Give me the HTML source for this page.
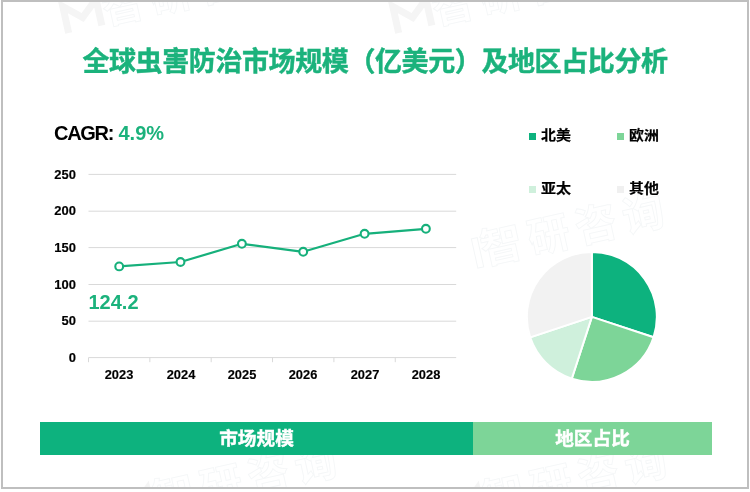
<!DOCTYPE html>
<html lang="zh-CN">
<head>
<meta charset="utf-8">
<title>全球虫害防治市场规模（亿美元）及地区占比分析</title>
<style>
html,body{margin:0;padding:0;background:#fff;}
body{width:750px;height:492px;position:relative;overflow:hidden;font-family:"Liberation Sans","Noto Sans CJK SC",sans-serif;}
#frame{position:absolute;left:1px;top:0;width:744px;height:485px;border:2px solid #bfbfbf;background:#fff;}
.abs{position:absolute;white-space:nowrap;line-height:1;}
#title{left:0;width:750px;top:48.5px;text-align:center;font-size:27px;font-weight:700;color:#1bb27c;letter-spacing:-0.4px;-webkit-text-stroke:0.45px #1bb27c;}
#cagr{left:54px;top:122.5px;font-size:20px;font-weight:700;color:#000;letter-spacing:-1.3px;}
#cagr span{color:#1bb27c;letter-spacing:0;position:absolute;left:64.5px;top:0;}
.yl{width:30px;left:46.2px;text-align:right;font-size:12px;font-weight:700;color:#000;transform:scaleX(1.08);transform-origin:100% 50%;-webkit-text-stroke:0.15px #000;}
.xl{width:60px;text-align:center;font-size:12px;font-weight:700;color:#000;transform:scaleX(1.07);transform-origin:50% 50%;-webkit-text-stroke:0.15px #000;}
#val{left:88.5px;top:291.5px;font-size:20px;font-weight:700;color:#1bb27c;}
.lg{font-size:13.6px;font-weight:700;color:#000;-webkit-text-stroke:0.2px #000;transform:scaleX(1.1);transform-origin:0 50%;}
.sq{position:absolute;width:6.5px;height:6.5px;}
#band1{position:absolute;left:40px;top:422px;width:433px;height:32.5px;background:#0db27e;}
#band2{position:absolute;left:473px;top:422px;width:239px;height:32.5px;background:#7dd598;}
.bt{color:#fff;font-size:18.67px;font-weight:700;text-align:center;width:100%;top:8px;-webkit-text-stroke:0.4px #fff;}
</style>
</head>
<body>
<div id="frame"></div>
<svg class="abs" style="left:0;top:0" width="750" height="492" viewBox="0 0 750 492">
  <defs><clipPath id="fc"><rect x="3" y="2" width="744" height="485"/></clipPath></defs>
  <g clip-path="url(#fc)" font-family="'Liberation Sans','Noto Sans CJK SC',sans-serif" font-size="42" font-weight="700" fill="none" stroke="#f5f7f8" stroke-width="0.9" letter-spacing="6.4">
    <text transform="translate(501.5,245.5) rotate(-12.5)" x="-21" y="15">智研咨询</text>
    <path transform="translate(501.5,245.5) rotate(-12.5)" d="M-28,-13 L-22,-13 L-22,17 L-28,17 Z" stroke="#f4f6f7" stroke-width="1" fill="none"/>
    <text transform="translate(123,5.5) rotate(-12.5)" x="-21" y="15">智研咨询</text>
    <path transform="translate(123,5.5) rotate(-12.5)" d="M-59,15 L-59,-12 L-42,3 L-25,-12 L-25,15" stroke="#f5f5f5" stroke-width="7" fill="none"/>
    <text transform="translate(453,5.5) rotate(-12.5)" x="-21" y="15">智研咨询</text>
    <path transform="translate(453,5.5) rotate(-12.5)" d="M-59,15 L-59,-12 L-42,3 L-25,-12 L-25,15" stroke="#f5f5f5" stroke-width="7" fill="none"/>
    <text transform="translate(174,495.5) rotate(-12.5)" x="-21" y="15">智研咨询</text>
    <path transform="translate(174,495.5) rotate(-12.5)" d="M-59,15 L-59,-12 L-42,3 L-25,-12 L-25,15" stroke="#f5f5f5" stroke-width="7" fill="none"/>
    <text transform="translate(504,495.5) rotate(-12.5)" x="-21" y="15">智研咨询</text>
    <path transform="translate(504,495.5) rotate(-12.5)" d="M-59,15 L-59,-12 L-42,3 L-25,-12 L-25,15" stroke="#f5f5f5" stroke-width="7" fill="none"/>
  </g>
  <rect x="40" y="100" width="416.5" height="300" fill="#fff"/>
</svg>
<div id="title" class="abs">全球虫害防治市场规模（亿美元）及地区占比分析</div>
<div id="cagr" class="abs">CAGR: <span>4.9%</span></div>

<svg class="abs" style="left:0;top:0" width="750" height="492" viewBox="0 0 750 492">
  <g stroke="#d9d9d9" stroke-width="1" fill="none">
    <line x1="88.5" y1="174.4" x2="456.2" y2="174.4"/>
    <line x1="88.5" y1="211.2" x2="456.2" y2="211.2"/>
    <line x1="88.5" y1="247.6" x2="456.2" y2="247.6"/>
    <line x1="88.5" y1="284.5" x2="456.2" y2="284.5"/>
    <line x1="88.5" y1="321.2" x2="456.2" y2="321.2"/>
    <line x1="88.5" y1="357.6" x2="456.2" y2="357.6"/>
    <line x1="88.50" y1="357.6" x2="88.50" y2="362.2"/>
    <line x1="149.85" y1="357.6" x2="149.85" y2="362.2"/>
    <line x1="211.20" y1="357.6" x2="211.20" y2="362.2"/>
    <line x1="272.55" y1="357.6" x2="272.55" y2="362.2"/>
    <line x1="333.90" y1="357.6" x2="333.90" y2="362.2"/>
    <line x1="395.25" y1="357.6" x2="395.25" y2="362.2"/>
  </g>
  <polyline points="119.2,266.4 180.5,262.0 241.9,243.8 303.2,251.8 364.6,233.8 425.9,228.8" fill="none" stroke="#16b07b" stroke-width="2.2" stroke-linejoin="round"/>
  <g fill="#fff" stroke="#16b07b" stroke-width="2.1">
    <circle cx="119.2" cy="266.4" r="3.9"/>
    <circle cx="180.5" cy="262.0" r="3.9"/>
    <circle cx="241.9" cy="243.8" r="3.9"/>
    <circle cx="303.2" cy="251.8" r="3.9"/>
    <circle cx="364.6" cy="233.8" r="3.9"/>
    <circle cx="425.9" cy="228.8" r="3.9"/>
  </g>
  <!-- pie -->
  <g stroke="#fff" stroke-width="2" stroke-linejoin="round">
    <path d="M591.85,316.9 L591.85,251.90 A65.0,65.0 0 0 1 653.56,337.31 Z" fill="#0db27e"/>
    <path d="M591.85,316.9 L653.56,337.31 A65.0,65.0 0 0 1 571.76,378.72 Z" fill="#7dd598"/>
    <path d="M591.85,316.9 L571.76,378.72 A65.0,65.0 0 0 1 530.17,337.42 Z" fill="#cff0dc"/>
    <path d="M591.85,316.9 L530.17,337.42 A65.0,65.0 0 0 1 591.85,251.90 Z" fill="#f2f2f2"/>
  </g>
</svg>

<div class="abs yl" style="top:168.5px">250</div>
<div class="abs yl" style="top:205.3px">200</div>
<div class="abs yl" style="top:241.7px">150</div>
<div class="abs yl" style="top:278.6px">100</div>
<div class="abs yl" style="top:315.3px">50</div>
<div class="abs yl" style="top:351.7px">0</div>

<div class="abs xl" style="left:89.3px;top:368.5px">2023</div>
<div class="abs xl" style="left:150.6px;top:368.5px">2024</div>
<div class="abs xl" style="left:212.0px;top:368.5px">2025</div>
<div class="abs xl" style="left:273.3px;top:368.5px">2026</div>
<div class="abs xl" style="left:334.7px;top:368.5px">2027</div>
<div class="abs xl" style="left:396.0px;top:368.5px">2028</div>

<div id="val" class="abs">124.2</div>

<div class="sq" style="left:529.2px;top:133.2px;background:#0db27e"></div>
<div class="abs lg" style="left:541px;top:129px">北美</div>
<div class="sq" style="left:617px;top:133.2px;background:#7dd598"></div>
<div class="abs lg" style="left:629px;top:129px">欧洲</div>
<div class="sq" style="left:529.2px;top:186px;background:#cff0dc"></div>
<div class="abs lg" style="left:541px;top:182px">亚太</div>
<div class="sq" style="left:617px;top:186px;background:#f0f0f0"></div>
<div class="abs lg" style="left:629px;top:182px">其他</div>

<div id="band1"><div class="abs bt">市场规模</div></div>
<div id="band2"><div class="abs bt">地区占比</div></div>
</body>
</html>
